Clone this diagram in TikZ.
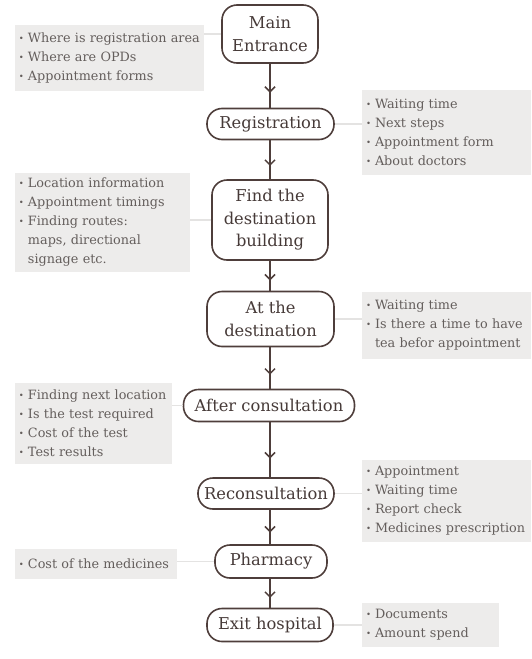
\documentclass[tikz,border=0pt]{standalone}
\usepackage{fontspec}
\setmainfont{DejaVu Serif}
\usetikzlibrary{arrows.meta,decorations.markings}
\definecolor{edgecol}{HTML}{4E3E3B}
\definecolor{nodetext}{HTML}{463A38}
\definecolor{infotext}{HTML}{645E5C}
\definecolor{boxfill}{HTML}{EDECEB}
\definecolor{linkgray}{HTML}{E4E3E2}
\newcommand\bl{\makebox[9pt][l]{\raisebox{1.5pt}{\fontsize{8.5}{8.5}\selectfont•}}}
\newcommand\cont{\hspace*{9pt}}
\begin{document}
\begin{tikzpicture}[x=1pt,y=-1pt,
  stepnode/.style={draw=edgecol, line width=1.6pt, rounded corners=15pt, text=nodetext,
    font=\fontsize{16.3}{22.5}\selectfont, align=center, inner sep=0pt},
  infobox/.style={fill=boxfill, text=infotext, font=\fontsize{12.8}{19}\selectfont,
    align=left, inner xsep=4pt, inner ysep=0pt},
  flow/.style={draw=edgecol, line width=1.6pt, postaction={decorate},
    decoration={markings, mark=at position 0.66 with {\arrow{Straight Barb[length=5pt,width=10pt,line width=1.5pt]}}}},
  link/.style={draw=linkgray, line width=1.5pt}]
\useasboundingbox (0,0) rectangle (532,659);

% main flow nodes
\node[stepnode, minimum width=96pt, minimum height=58pt] (me) at (270,34) {Main\\Entrance};
\node[stepnode, minimum width=127pt, minimum height=31pt] (reg) at (270.5,124) {Registration};
\node[stepnode, minimum width=116pt, minimum height=80pt] (find) at (270,220) {Find the\\destination\\building};
\node[stepnode, minimum width=127pt, minimum height=55pt] (dest) at (270.5,319) {At the\\destination};
\node[stepnode, minimum width=171pt, minimum height=32pt] (after) at (269,405.5) {After consultation};
\node[stepnode, minimum width=136pt, minimum height=31pt] (recon) at (266,493.5) {Reconsultation};
\node[stepnode, minimum width=112pt, minimum height=33pt] (pharm) at (271,561.5) {Pharmacy};
\node[stepnode, minimum width=126pt, minimum height=33pt] (exit) at (270,625) {Exit hospital};

% info boxes
\node[infobox, text width=181pt, minimum height=66pt] (b1) at (109.5,58)
  {\bl Where is registration area\\\bl Where are OPDs\\\bl Appointment forms};
\node[infobox, text width=161pt, minimum height=85pt] (b2) at (446.5,132.5)
  {\bl Waiting time\\\bl Next steps\\\bl Appointment form\\\bl About doctors};
\node[infobox, text width=167pt, minimum height=99pt] (b3) at (102.5,222.5)
  {\bl Location information\\\bl Appointment timings\\\bl Finding routes:\\\cont maps, directional\\\cont signage etc.};
\node[infobox, text width=161pt, minimum height=67pt] (b4) at (446.5,325.5)
  {\bl Waiting time\\\bl Is there a time to have\\\cont tea befor appointment};
\node[infobox, text width=149pt, minimum height=81pt] (b5) at (93.5,423.5)
  {\bl Finding next location\\\bl Is the test required\\\bl Cost of the test\\\bl Test results};
\node[infobox, text width=161pt, minimum height=82pt] (b6) at (446.5,501)
  {\bl Appointment\\\bl Waiting time\\\bl Report check\\\bl Medicines prescription};
\node[infobox, text width=154pt, minimum height=30pt] (b7) at (96,564)
  {\bl Cost of the medicines};
\node[infobox, text width=129pt, minimum height=44pt] (b8) at (430.5,625)
  {\bl Documents\\\bl Amount spend};

% links from boxes
\draw[link] (me.west) -- (me.west -| b1.east);
\draw[link] (reg.east) -- (reg.east -| b2.west);
\draw[link] (find.west) -- (find.west -| b3.east);
\draw[link] (dest.east) -- (dest.east -| b4.west);
\draw[link] (after.west) -- (after.west -| b5.east);
\draw[link] (recon.east) -- (recon.east -| b6.west);
\draw[link] (pharm.west) -- (pharm.west -| b7.east);
\draw[link] (exit.east) -- (exit.east -| b8.west);

% flow connectors
\coordinate (x0) at (270,0);
\draw[flow] (x0 |- me.south) -- (x0 |- reg.north);
\draw[flow] (x0 |- reg.south) -- (x0 |- find.north);
\draw[flow] (x0 |- find.south) -- (x0 |- dest.north);
\draw[flow] (x0 |- dest.south) -- (x0 |- after.north);
\draw[flow] (x0 |- after.south) -- (x0 |- recon.north);
\draw[flow] (x0 |- recon.south) -- (x0 |- pharm.north);
\draw[flow] (x0 |- pharm.south) -- (x0 |- exit.north);
\end{tikzpicture}
\end{document}
